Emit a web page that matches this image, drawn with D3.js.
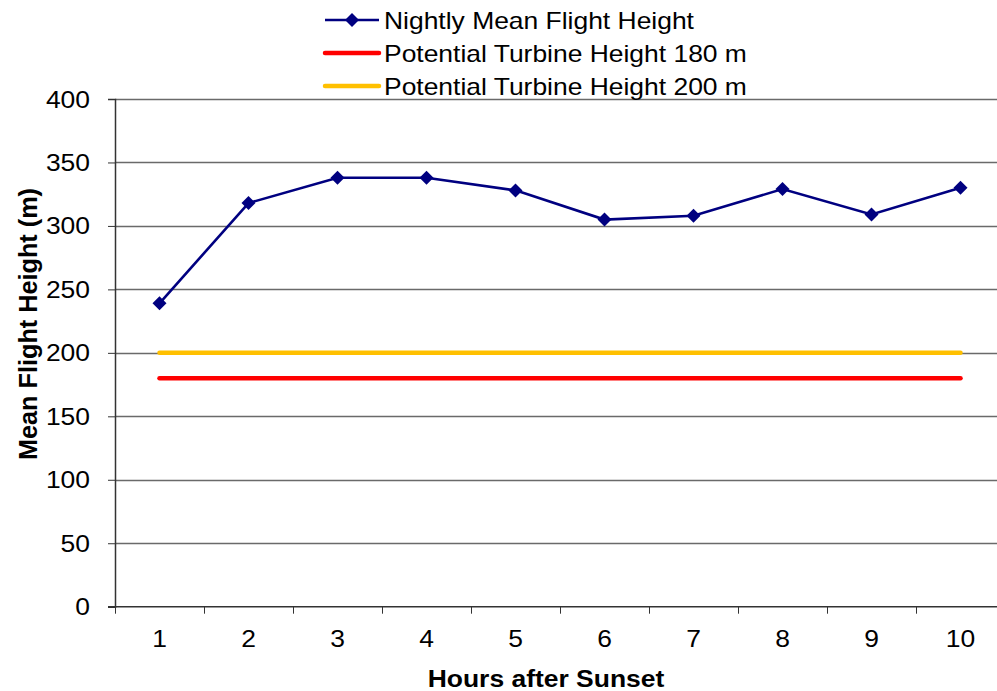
<!DOCTYPE html>
<html>
<head>
<meta charset="utf-8">
<script src="https://cdn.jsdelivr.net/npm/d3@7"></script>
<style>
  html, body { margin: 0; padding: 0; background: #fff; }
  svg { display: block; font-family: "Liberation Sans", Arial, sans-serif; }
</style>
</head>
<body>
<svg id="chart" width="997" height="691"></svg>
<script>
// Hours after sunset and the mean flight height per hour
const hours = ["1", "2", "3", "4", "5", "6", "7", "8", "9", "10"];
const meanHeight = [239, 318, 338, 338, 328, 305, 308, 329, 309, 330];
// Reference turbine heights
const turbine180 = 180;
const turbine200 = 200;
const yTicks = [0, 50, 100, 150, 200, 250, 300, 350, 400];
const legendLabels = ["Nightly Mean Flight Height", "Potential Turbine Height 180 m", "Potential Turbine Height 200 m"];

const svg = d3.select("#chart");
const W = 997, H = 691;
const plotLeft = 115, plotTop = 99, plotBottom = 606.7, bandStep = 89;
const SX = 1.15; // horizontal widening of the label text

const x = d3.scaleBand().domain(hours).range([plotLeft, plotLeft + bandStep * hours.length]);
const y = d3.scaleLinear().domain([0, 400]).range([plotBottom, plotTop]);
const cx = d => x(d) + x.bandwidth() / 2;

// Horizontal gridlines
svg.append("g")
  .selectAll("line")
  .data(yTicks.filter(v => v > 0))
  .join("line")
  .attr("x1", plotLeft).attr("x2", W)
  .attr("y1", d => Math.round(y(d)) + 0.5).attr("y2", d => Math.round(y(d)) + 0.5)
  .attr("stroke", "#6a6a6a").attr("stroke-width", 1.3);

// Y axis
const yAxis = svg.append("g")
  .attr("transform", `translate(${plotLeft},0)`)
  .call(d3.axisLeft(y).tickValues(yTicks).tickSize(7).tickFormat(d3.format("d")));
yAxis.select(".domain").attr("stroke", "#333").attr("stroke-width", 1.5);
yAxis.selectAll(".tick line").attr("stroke", "#333");
yAxis.selectAll(".tick text").remove();
yAxis.selectAll(".tick").append("text")
  .attr("transform", `translate(-25,8) scale(${SX},1)`)
  .attr("text-anchor", "end").attr("font-size", 23).attr("fill", "#000")
  .attr("font-family", "'Liberation Sans', Arial, sans-serif")
  .text(d => d);

// X axis with ticks between categories
const xAxisG = svg.append("g").attr("transform", `translate(0,${plotBottom})`);
xAxisG.append("line").attr("x1", plotLeft - 7).attr("x2", W)
  .attr("stroke", "#333").attr("stroke-width", 1.5);
xAxisG.selectAll("line.tk")
  .data(hours.concat(["end"]))
  .join("line").attr("class", "tk")
  .attr("x1", (d, i) => Math.round(plotLeft + bandStep * i) + 0.5)
  .attr("x2", (d, i) => Math.round(plotLeft + bandStep * i) + 0.5)
  .attr("y1", 0).attr("y2", 7).attr("stroke", "#333");
xAxisG.selectAll("text")
  .data(hours)
  .join("text")
  .attr("transform", d => `translate(${cx(d)},40) scale(${SX},1)`)
  .attr("text-anchor", "middle").attr("font-size", 23).text(d => d);

// Turbine height reference lines
const refLine = (val, color) => svg.append("line")
  .attr("x1", cx(hours[0])).attr("x2", cx(hours[hours.length - 1]))
  .attr("y1", y(val)).attr("y2", y(val))
  .attr("stroke", color).attr("stroke-width", 4.5).attr("stroke-linecap", "round");
refLine(turbine200, "#FFC000");
refLine(turbine180, "#FF0000");

// Mean flight height series
const line = d3.line().x((d, i) => cx(hours[i])).y(d => y(d));
svg.append("path").datum(meanHeight)
  .attr("d", line).attr("fill", "none")
  .attr("stroke", "#000080").attr("stroke-width", 2.6);

const diamond = d3.symbol().type(d3.symbolSquare).size(98);
svg.append("g").selectAll("path")
  .data(meanHeight)
  .join("path")
  .attr("d", diamond)
  .attr("transform", (d, i) => `translate(${cx(hours[i])},${y(d)}) rotate(45)`)
  .attr("fill", "#000080");

// Axis titles
svg.append("text")
  .attr("transform", `translate(37,324) rotate(-90) scale(1,${SX})`)
  .attr("text-anchor", "middle").attr("font-size", 23).attr("font-weight", "bold")
  .attr("textLength", 272).attr("lengthAdjust", "spacingAndGlyphs")
  .text("Mean Flight Height (m)");
svg.append("text")
  .attr("transform", `translate(546,687) scale(1.08,1)`)
  .attr("text-anchor", "middle").attr("font-size", 24.5).attr("font-weight", "bold")
  .text("Hours after Sunset");

// Legend
const legend = svg.append("g");
const legendY = [20, 53, 86];
legendLabels.forEach((label, i) => {
  const g = legend.append("g").attr("transform", `translate(0,${legendY[i]})`);
  if (i === 0) {
    g.append("line").attr("x1", 325).attr("x2", 379).attr("stroke", "#000080").attr("stroke-width", 2.6);
    g.append("path").attr("d", diamond).attr("transform", "translate(352,0) rotate(45)").attr("fill", "#000080");
  } else {
    g.append("line").attr("x1", 325).attr("x2", 379)
      .attr("stroke", i === 1 ? "#FF0000" : "#FFC000").attr("stroke-width", 4.5).attr("stroke-linecap", "round");
  }
  g.append("text").attr("transform", `translate(384,9) scale(${SX},1)`)
    .attr("font-size", 23).text(label);
});
</script>
</body>
</html>
